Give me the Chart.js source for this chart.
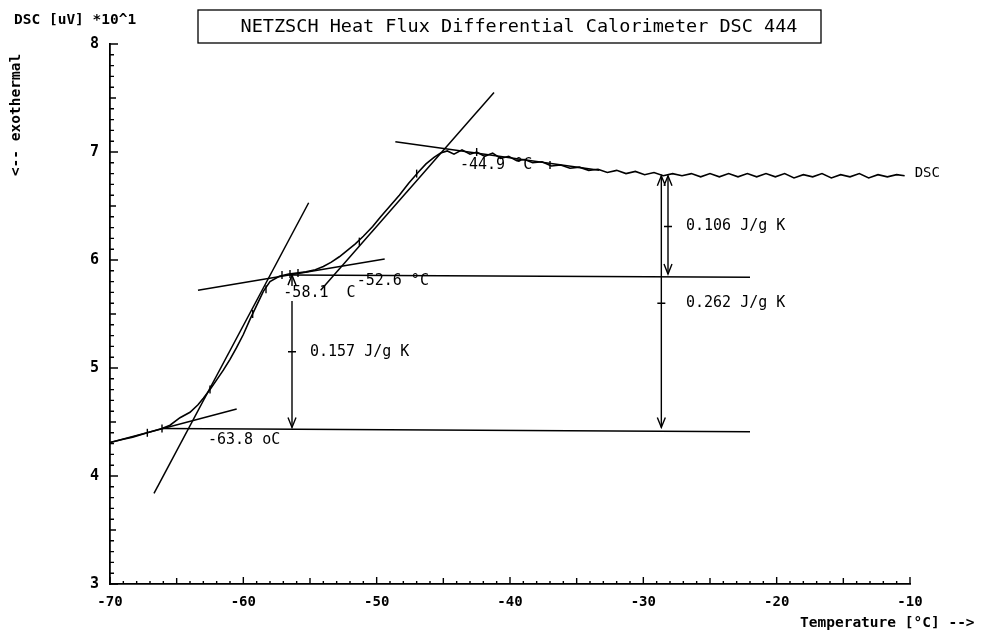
<!DOCTYPE html>
<html>
<head>
<meta charset="utf-8">
<script src="https://cdn.jsdelivr.net/npm/chart.js@4.4.0/dist/chart.umd.min.js"></script>
<style>
  html, body { margin: 0; padding: 0; background: #fff; }
  #wrap { width: 985px; height: 642px; }
</style>
</head>
<body>
<div id="wrap"><canvas id="dscChart" width="985" height="642"></canvas></div>
<script>
// DSC trace: temperature in °C, signal in uV * 10^1
const tempC = [
  -70, -69.0, -68.3, -67.2, -66.1, -65.5, -64.75, -64.0, -63.4, -63.0,
  -62.5, -62.0, -61.5, -61.0, -60.5, -60.0, -59.5, -59.0, -58.5, -58.0,
  -57.3, -56.6, -56.0, -55.3, -54.6, -54.0, -53.4, -52.8, -52.2, -51.6,
  -51.0, -50.3, -49.7, -49.0, -48.3, -47.6, -46.9, -46.3, -45.7, -45.2,
  -44.7, -44.2, -43.6, -43.0, -42.5, -41.9, -41.3, -40.7, -40.1, -39.5,
  -38.9, -38.3, -37.6, -36.9, -36.2, -35.5, -34.8, -34.1, -33.4, -32.7,
  -32.0, -31.3, -30.6, -29.9, -29.2, -28.5, -27.8, -27.1, -26.4, -25.7,
  -25.0, -24.3, -23.6, -22.9, -22.2, -21.5, -20.8, -20.1, -19.4, -18.7,
  -18.0, -17.3, -16.6, -15.9, -15.2, -14.5, -13.8, -13.1, -12.4, -11.7,
  -11.0, -10.4
];
const signal = [
  4.31, 4.34, 4.36, 4.40, 4.44, 4.47, 4.54, 4.59, 4.66, 4.72,
  4.80, 4.89, 4.98, 5.08, 5.19, 5.31, 5.45, 5.58, 5.71, 5.80,
  5.85, 5.87, 5.88, 5.89, 5.91, 5.94, 5.98, 6.03, 6.09, 6.15,
  6.22, 6.31, 6.40, 6.50, 6.60, 6.71, 6.81, 6.89, 6.95, 6.99,
  7.01, 6.98, 7.02, 6.98, 7.00, 6.96, 6.99, 6.94, 6.96, 6.92,
  6.93, 6.90, 6.91, 6.87, 6.88, 6.85, 6.86, 6.83, 6.84, 6.81,
  6.83, 6.80, 6.82, 6.79, 6.81, 6.78, 6.80, 6.78, 6.80, 6.77,
  6.80, 6.77, 6.80, 6.77, 6.80, 6.77, 6.80, 6.77, 6.80, 6.76,
  6.79, 6.77, 6.80, 6.76, 6.79, 6.77, 6.80, 6.76, 6.79, 6.77,
  6.79, 6.78
];

// little tick marks the plotter put on the trace
const markTemps = [-67.2, -66.1, -62.5, -59.3, -58.3, -57.1, -56.5, -55.9, -51.3, -47.0, -42.5, -37.0];
const markVals  = [4.40, 4.44, 4.80, 5.50, 5.73, 5.86, 5.87, 5.88, 6.17, 6.80, 7.00, 6.88];

// construction lines (tangents and step levels), [temp, value] pairs
const lowBaseline  = [[-70, 4.31], [-60.5, 4.62]];
const lowSlope     = [[-66.7, 3.84], [-55.1, 6.53]];
const midBaseline  = [[-63.4, 5.72], [-49.4, 6.01]];
const highSlope    = [[-54.2, 5.72], [-41.2, 7.55]];
const highBaseline = [[-48.6, 7.095], [-33.3, 6.83]];
const midLevel     = [[-56.6, 5.86], [-22.0, 5.84]];
const lowLevel     = [[-66.1, 4.44], [-22.0, 4.41]];

// step height arrows (the first one is split around its label)
const arrowTemps   = [-56.35, -56.35, -28.15, -28.65];
const arrowTops    = [5.86, 5.62, 6.78, 6.78];
const arrowBottoms = [5.76, 4.45, 5.87, 4.45];
const headUp       = [true, false, true, true];
const headDown     = [false, true, true, true];
const stepTickTemps = [-56.35, -28.15, -28.65];
const stepTickVals  = [5.15, 6.31, 5.60];

// text notes on the plot
const noteTexts = ["-63.8 oC", "-58.1  C", "-52.6 °C", "-44.9 °C", "0.157 J/g K", "0.106 J/g K", "0.262 J/g K"];
const noteTemps = [-62.65, -57.0, -51.5, -43.75, -55.0, -26.8, -26.8];
const noteVals  = [4.33, 5.69, 5.80, 6.88, 5.15, 6.31, 5.60];

const pairsToPoints = (pairs) => pairs.map(([x, y]) => ({ x, y }));

const lineSet = (pts, width) => ({
  data: pts,
  showLine: true,
  borderColor: "#000",
  borderWidth: width,
  pointRadius: 0,
  fill: false,
  tension: 0,
});

const datasets = [
  lineSet(tempC.map((t, i) => ({ x: t, y: signal[i] })), 1.6),
  lineSet(pairsToPoints(lowBaseline), 1.5),
  lineSet(pairsToPoints(lowSlope), 1.5),
  lineSet(pairsToPoints(midBaseline), 1.5),
  lineSet(pairsToPoints(highSlope), 1.5),
  lineSet(pairsToPoints(highBaseline), 1.5),
  lineSet(pairsToPoints(midLevel), 1.5),
  lineSet(pairsToPoints(lowLevel), 1.5),
];
const firstArrow = datasets.length;
arrowTemps.forEach((t, i) => {
  datasets.push(lineSet([{ x: t, y: arrowTops[i] }, { x: t, y: arrowBottoms[i] }], 1.4));
});
datasets.push({
  data: markTemps.map((t, i) => ({ x: t, y: markVals[i] })),
  showLine: false,
  pointStyle: "line",
  pointRotation: 90,
  pointRadius: 4,
  borderColor: "#000",
  borderWidth: 1.4,
});

const MONO = '"DejaVu Sans Mono", monospace';

// inward minor ticks, arrowheads and all the plotter text
const plotterMarks = {
  id: "plotterMarks",
  afterDatasetsDraw(chart) {
    const { ctx, scales } = chart;
    const xs = scales.x, ys = scales.y;
    const area = chart.chartArea;
    ctx.save();
    ctx.strokeStyle = "#000";
    ctx.fillStyle = "#000";
    ctx.lineWidth = 1.4;

    // axis ticks pointing into the plot
    ctx.beginPath();
    for (let t = -70; t <= -10; t++) {
      const px = xs.getPixelForValue(t);
      const len = t % 10 === 0 ? 7 : t % 5 === 0 ? 6 : 3;
      ctx.moveTo(px, area.bottom);
      ctx.lineTo(px, area.bottom - len);
    }
    for (let k = 30; k <= 80; k++) {
      const py = ys.getPixelForValue(k / 10);
      const len = k % 10 === 0 ? 8 : k % 5 === 0 ? 6 : 4;
      ctx.moveTo(area.left, py);
      ctx.lineTo(area.left + len, py);
    }
    ctx.stroke();

    // open arrowheads
    ctx.beginPath();
    for (let i = 0; i < arrowTemps.length; i++) {
      const pts = chart.getDatasetMeta(firstArrow + i).data;
      const top = pts[0], bot = pts[1];
      if (headUp[i]) {
        ctx.moveTo(top.x - 4, top.y + 10);
        ctx.lineTo(top.x, top.y);
        ctx.lineTo(top.x + 4, top.y + 10);
      }
      if (headDown[i]) {
        ctx.moveTo(bot.x - 4, bot.y - 10);
        ctx.lineTo(bot.x, bot.y);
        ctx.lineTo(bot.x + 4, bot.y - 10);
      }
    }
    // small cross marks where the step values are read
    stepTickTemps.forEach((t, i) => {
      const px = xs.getPixelForValue(t), py = ys.getPixelForValue(stepTickVals[i]);
      ctx.moveTo(px - 4, py);
      ctx.lineTo(px + 4, py);
    });
    ctx.stroke();

    // notes
    ctx.font = "15px " + MONO;
    ctx.textBaseline = "middle";
    ctx.textAlign = "left";
    noteTexts.forEach((txt, i) => {
      ctx.fillText(txt, xs.getPixelForValue(noteTemps[i]), ys.getPixelForValue(noteVals[i]));
    });
    const last = tempC.length - 1;
    ctx.font = "14px " + MONO;
    ctx.fillText("DSC", xs.getPixelForValue(tempC[last]) + 10, ys.getPixelForValue(signal[last]) - 2);

    // boxed heading
    ctx.font = "18.5px " + MONO;
    ctx.textAlign = "center";
    ctx.lineWidth = 1.3;
    ctx.strokeRect(198, 10, 623, 33);
    ctx.fillText("NETZSCH Heat Flux Differential Calorimeter DSC 444", 519, 27);

    // axis captions
    ctx.font = "bold 14.5px " + MONO;
    ctx.textAlign = "left";
    ctx.fillText("DSC [uV] *10^1", 14, 20);
    ctx.fillText("Temperature [°C] -->", 800, 623);
    ctx.save();
    ctx.translate(16, 115);
    ctx.rotate(-Math.PI / 2);
    ctx.textAlign = "center";
    ctx.fillText("<-- exothermal", 0, 0);
    ctx.restore();

    ctx.restore();
  },
};

const ctx = document.getElementById("dscChart").getContext("2d");
const dscChart = new Chart(ctx, {
  type: "scatter",
  data: { datasets },
  options: {
    responsive: false,
    animation: false,
    layout: { padding: { left: 0, right: 75, top: 44, bottom: 0 } },
    plugins: {
      legend: { display: false },
      tooltip: { enabled: false },
    },
    scales: {
      x: {
        type: "linear",
        min: -70,
        max: -10,
        ticks: {
          stepSize: 10,
          color: "#000",
          padding: 10,
          font: { family: MONO, size: 14, weight: "bold" },
        },
        grid: { drawOnChartArea: false, drawTicks: false },
        border: { color: "#000", width: 1.8 },
        afterFit(scale) { scale.height = 58; },
      },
      y: {
        min: 3,
        max: 8,
        ticks: {
          stepSize: 1,
          color: "#000",
          padding: 11,
          font: { family: MONO, size: 15, weight: "bold" },
        },
        grid: { drawOnChartArea: false, drawTicks: false },
        border: { color: "#000", width: 1.8 },
        afterFit(scale) { scale.width = 110; },
      },
    },
  },
  plugins: [plotterMarks],
});
</script>
</body>
</html>
